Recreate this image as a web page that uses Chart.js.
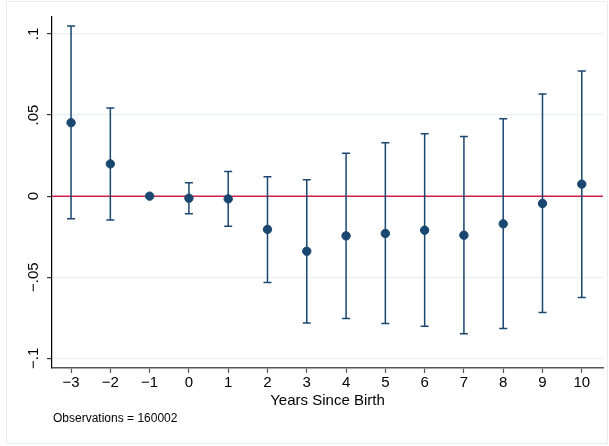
<!DOCTYPE html>
<html>
<head>
<meta charset="utf-8">
<script src="https://cdn.jsdelivr.net/npm/chart.js@4/dist/chart.umd.min.js"></script>
<style>
  html, body { margin: 0; padding: 0; background: #fff; }
  #wrap { width: 609px; height: 446px; position: relative; }
</style>
</head>
<body>
<div id="wrap"><canvas id="grafico"></canvas></div>
<script>
// years since birth and estimated coefficients with 95% bounds
const years = [-3, -2, -1, 0, 1, 2, 3, 4, 5, 6, 7, 8, 9, 10];
const coef  = [0.0453, 0.0199, 0, -0.0013, -0.0017, -0.0205, -0.0340, -0.0245, -0.0230, -0.0210, -0.0241, -0.0171, -0.0045, 0.0074];
const upper = [0.1050, 0.0543, null, 0.0083, 0.0152, 0.0119, 0.0101, 0.0265, 0.0329, 0.0385, 0.0368, 0.0477, 0.0630, 0.0772];
const lower = [-0.0140, -0.0147, null, -0.0108, -0.0185, -0.0533, -0.0782, -0.0755, -0.0786, -0.0802, -0.0848, -0.0817, -0.0718, -0.0625];
const yTicks = [-0.1, -0.05, 0, 0.05, 0.1];
const yTickLabels = ['\u2212.1', '\u2212.05', '0', '.05', '.1'];
const note = 'Observations = 160002';

const navy = '#1a476f';
const refColor = '#d0204a';
const font = '"Liberation Sans", Arial, Helvetica, sans-serif';

const stataPlugin = {
  id: 'stata',
  beforeDraw(chart) {
    const ctx = chart.ctx;
    ctx.save();
    ctx.strokeStyle = '#e6edf0';
    ctx.lineWidth = 1;
    ctx.strokeRect(6.5, 1.5, 601, 442);
    ctx.restore();
  },
  beforeDatasetsDraw(chart) {
    const ctx = chart.ctx;
    const x = chart.scales.x, y = chart.scales.y;
    const area = chart.chartArea;
    ctx.save();
    // reference line at zero
    const y0 = y.getPixelForValue(0);
    ctx.strokeStyle = refColor;
    ctx.lineWidth = 1.5;
    ctx.beginPath();
    ctx.moveTo(area.left, y0);
    ctx.lineTo(area.right, y0);
    ctx.stroke();
    // confidence intervals
    ctx.strokeStyle = navy;
    ctx.lineWidth = 1.5;
    years.forEach((yr, i) => {
      if (upper[i] === null) return;
      const px = x.getPixelForValue(yr);
      const hi = y.getPixelForValue(upper[i]);
      const lo = y.getPixelForValue(lower[i]);
      ctx.beginPath();
      ctx.moveTo(px, hi); ctx.lineTo(px, lo);
      ctx.moveTo(px - 4, hi); ctx.lineTo(px + 4, hi);
      ctx.moveTo(px - 4, lo); ctx.lineTo(px + 4, lo);
      ctx.stroke();
    });
    ctx.restore();
  },
  afterDraw(chart) {
    const ctx = chart.ctx;
    const x = chart.scales.x, y = chart.scales.y;
    ctx.save();
    ctx.fillStyle = '#000';
    // rotated y tick labels
    ctx.font = '15px ' + font;
    ctx.textAlign = 'center';
    ctx.textBaseline = 'alphabetic';
    yTicks.forEach((v, i) => {
      const py = y.getPixelForValue(v);
      ctx.save();
      ctx.translate(38, py);
      ctx.rotate(-Math.PI / 2);
      ctx.fillText(yTickLabels[i], 0, 0);
      ctx.restore();
    });
    // x axis title
    ctx.fillText('Years Since Birth', (x.left + x.right) / 2, 405);
    // note
    ctx.font = '12px ' + font;
    ctx.textAlign = 'left';
    ctx.fillText(note, 53, 422);
    ctx.restore();
  }
};

new Chart(document.getElementById('grafico'), {
  type: 'scatter',
  data: {
    datasets: [{
      label: 'coef',
      data: years.map((yr, i) => ({ x: yr, y: coef[i] })),
      backgroundColor: navy,
      borderColor: navy,
      pointRadius: 4.2,
      pointHoverRadius: 4.2
    }]
  },
  options: {
    responsive: true,
    maintainAspectRatio: false,
    animation: false,
    layout: { padding: { top: 17, right: 6, left: 0, bottom: 0 } },
    plugins: { legend: { display: false }, tooltip: { enabled: false } },
    scales: {
      x: {
        type: 'linear',
        min: -3.485,
        max: 10.54,
        afterBuildTicks: s => { s.ticks = years.map(v => ({ value: v })); },
        afterFit: s => { s.height = 78; },
        border: { color: '#555', width: 1.5 },
        grid: { drawOnChartArea: false, tickLength: 5, tickColor: '#555', tickWidth: 1.2 },
        ticks: {
          color: '#000',
          font: { family: font, size: 15 },
          padding: 1,
          maxRotation: 0,
          callback: v => (v < 0 ? '\u2212' + Math.abs(v) : String(v))
        }
      },
      y: {
        min: -0.106,
        max: 0.1105,
        afterBuildTicks: s => { s.ticks = yTicks.map(v => ({ value: v })); },
        afterFit: s => { s.width = 52; },
        border: { color: '#000', width: 1.2 },
        grid: { color: '#e9f0f2', lineWidth: 1.2, tickLength: 5, tickColor: '#333' },
        ticks: { display: false }
      }
    }
  },
  plugins: [stataPlugin]
});
</script>
</body>
</html>
